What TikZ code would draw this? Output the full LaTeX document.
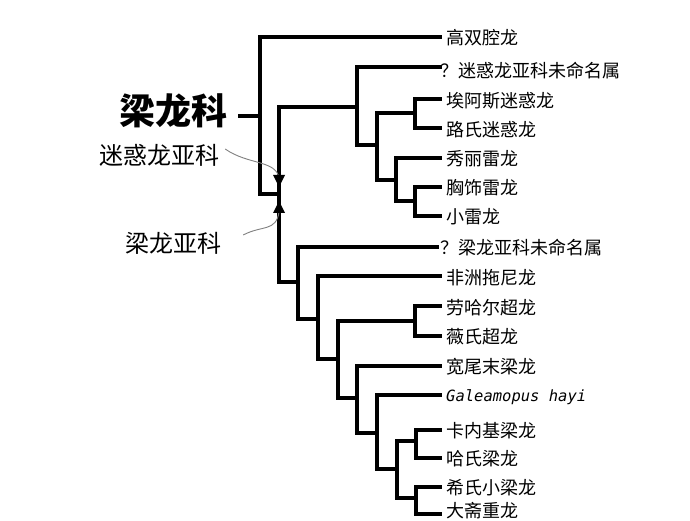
\documentclass[tikz,border=0pt]{standalone}
\usepackage{fontspec}
\newfontfamily\cjk{Noto Sans CJK SC}
\setmonofont{DejaVu Sans Mono}
\begin{document}
\begin{tikzpicture}[x=1pt,y=-1pt]
\tikzset{branch/.style={line width=3.2pt,line cap=rect},
  leaf/.style={anchor=west,inner sep=0pt,font=\cjk\fontsize{18}{18}\selectfont},
  clade/.style={inner sep=0pt,font=\cjk\fontsize{24}{24}\selectfont},
  pointer/.style={gray,line width=0.9pt}}
\useasboundingbox (0,0) rectangle (690,521);
% leaves
\node[leaf] (ttD) at (446,38) {高双腔龙};
\node[leaf] (apU) at (440,71) {？迷惑龙亚科未命名属};
\node[leaf] (apA) at (446,101) {埃阿斯迷惑龙};
\node[leaf] (apL) at (446,130) {路氏迷惑龙};
\node[leaf] (brE) at (446,159) {秀丽雷龙};
\node[leaf] (brX) at (446,188) {胸饰雷龙};
\node[leaf] (brP) at (446,217) {小雷龙};
\node[leaf] (dpU) at (440,248) {？梁龙亚科未命名属};
\node[leaf] (toA) at (446,278) {非洲拖尼龙};
\node[leaf] (suL) at (446,308) {劳哈尔超龙};
\node[leaf] (suV) at (446,337) {薇氏超龙};
\node[leaf] (kaH) at (446,367) {宽尾末梁龙};
\node[leaf,font=\ttfamily\itshape\fontsize{15.5}{15.5}\selectfont] (gaH) at (446,397) {Galeamopus hayi};
\node[leaf] (diC) at (446,431) {卡内基梁龙};
\node[leaf] (diH) at (446,459) {哈氏梁龙};
\node[leaf] (leH) at (446,488) {希氏小梁龙};
\node[leaf] (baD) at (446,511) {大斋重龙};
% clade labels
\node[clade,font=\cjk\bfseries\fontsize{36}{36}\selectfont] (fam) at (173,111) {梁龙科};
\node[clade] (apS) at (159,155) {迷惑龙亚科};
\node[clade] (dpS) at (173,243) {梁龙亚科};
% tree
\draw[branch] (240,116) -- (260,116);
\draw[branch] (440,37) -| (260,194) -- (279,194);
\draw[branch] (279,107) -- (279,282) -- (298,282);
\draw[branch] (279,107) -- (357,107);
\draw[branch] (440,67) -| (357,145) -- (377,145);
\draw[branch] (440,99) -| (415,128) -- (440,128);
\draw[branch] (377,113) -- (415,113);
\draw[branch] (377,113) |- (396,180);
\draw[branch] (440,158) -| (396,201) -- (415,201);
\draw[branch] (440,187) -| (415,216) -- (440,216);
\draw[branch] (437,247) -| (298,319) -- (318,319);
\draw[branch] (440,276) -| (318,359) -- (338,359);
\draw[branch] (338,321) -- (415,321);
\draw[branch] (440,306) -| (415,336) -- (440,336);
\draw[branch] (338,321) |- (357,398);
\draw[branch] (440,366) -| (357,433) -- (377,433);
\draw[branch] (440,395) -| (377,469) -- (397,469);
\draw[branch] (416,441) -- (397,441) |- (416,498);
\draw[branch] (440,430) -| (416,458) -- (440,458);
\draw[branch] (440,487) -| (416,514) -- (440,514);
% pointers
\draw[pointer] (apS.east) ++(6,-6) .. controls (248,165) and (276,160) .. (279,178);
\draw[pointer] (dpS.east) ++(22,-8) .. controls (262,225) and (276,232) .. (279,212);
\fill (273,175) -- (285,175) -- (279,187) -- cycle;
\fill (273,213) -- (285,213) -- (279,201) -- cycle;
\end{tikzpicture}
\end{document}
